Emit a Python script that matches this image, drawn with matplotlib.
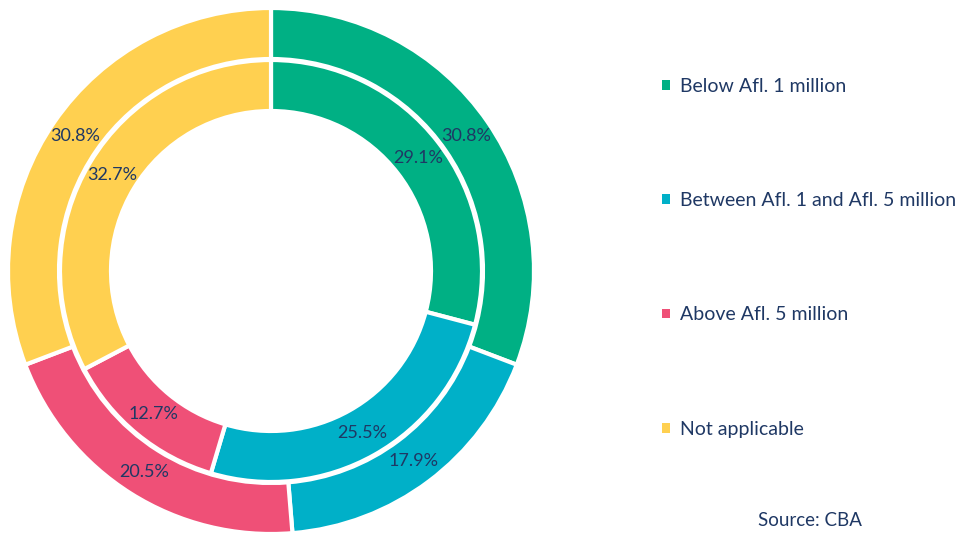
import matplotlib
matplotlib.use("Agg")
import matplotlib.pyplot as plt
from matplotlib.patches import Patch
import numpy as np

categories = ["Below Afl. 1 million", "Between Afl. 1 and Afl. 5 million",
              "Above Afl. 5 million", "Not applicable"]
outer_values = [30.8, 17.9, 20.5, 30.8]
inner_values = [29.1, 25.5, 12.7, 32.7]
colors = ["#00B084", "#00B0C8", "#EF5077", "#FFD050"]
text_color = "#1F3864"

plt.rcParams['font.family'] = ['Lato', 'DejaVu Sans']

W, H = 959, 533
fig = plt.figure(figsize=(W / 100, H / 100), dpi=100)
ax = fig.add_axes([0, 0, 1, 1])

cx, cy = 271, H - 271
R_out = 263
ring_w = 51
R_in = R_out - ring_w - 1

def fmt(v):
    return f"{v:.1f}%"

ax.pie(outer_values, radius=R_out, center=(cx, cy), startangle=90,
       counterclock=False, colors=colors,
       wedgeprops=dict(width=ring_w, edgecolor="white", linewidth=3))
ax.pie(inner_values, radius=R_in, center=(cx, cy), startangle=90,
       counterclock=False, colors=colors,
       wedgeprops=dict(width=ring_w, edgecolor="white", linewidth=3))

def place_labels(values, rmid):
    total = sum(values)
    start = 90.0
    for v in values:
        ang = start - v / total * 360 / 2
        a = np.deg2rad(ang)
        ax.text(cx + rmid * np.cos(a), cy + rmid * np.sin(a), fmt(v),
                ha="center", va="center", fontsize=13, color=text_color)
        start -= v / total * 360

place_labels(outer_values, R_out - ring_w / 2)
place_labels(inner_values, R_in - ring_w / 2)

ax.set_xlim(0, W)
ax.set_ylim(0, H)
ax.set_aspect("equal")
ax.axis("off")

handles = [Patch(facecolor=c, edgecolor="none") for c in colors]
fig.legend(handles, categories, loc="upper left", bbox_to_anchor=(662 / W, 1 - 78 / H),
           frameon=False, fontsize=14, labelcolor=text_color,
           handlelength=0.4, handleheight=0.4, handletextpad=0.5,
           labelspacing=5.0, borderaxespad=0, borderpad=0)

fig.text(810 / W, 1 - 520 / H, "Source: CBA", ha="center", va="center",
         fontsize=13.5, color=text_color)

fig.savefig("out.png", dpi=100)
